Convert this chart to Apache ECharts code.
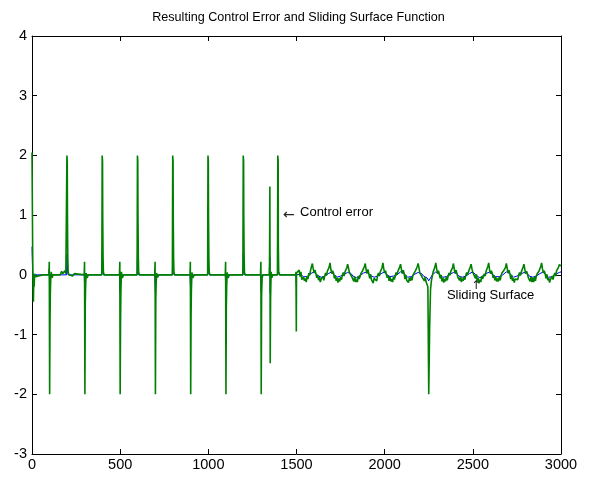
<!DOCTYPE html>
<html>
<head>
<meta charset="utf-8">
<script src="https://cdn.jsdelivr.net/npm/echarts@6/dist/echarts.min.js"></script>
<style>
  html, body { margin: 0; padding: 0; background: #fff; }
  #chart { width: 597px; height: 477px; }
</style>
</head>
<body>
<div id="chart"></div>
<script>
// x ticks / y ticks
const xTicks = [0, 500, 1000, 1500, 2000, 2500, 3000];
const yTicks = [-3, -2, -1, 0, 1, 2, 3, 4];

// control error, first half: [time, value] around the switching spikes
const ctrlErrA = [
  [0, 2.05], [2, 1.2], [4, 0.3], [6, -0.2], [8, -0.45], [10, -0.1], [12, -0.2], [15, 0.02], [20, -0.03], [30, 0], [60, 0],
  [96, 0], [98, 0.22], [100, -2], [102, -0.85], [104, -0.3], [106, -0.1], [109, 0.05], [114, -0.05], [120, 0],
  [160, 0], [168, 0.06], [175, 0.02], [186, 0.07], [192, 0.02], [196, 0.04], [198, 2], [200, 1.9], [201, 1], [203, 0.3], [205, 0.05], [210, 0],
  [230, -0.02], [240, 0.02], [250, 0],
  [296, 0], [298, 0.22], [300, -2], [302, -0.5], [304, -0.2], [307, 0.03], [312, -0.05], [320, 0],
  [396, 0], [398, 2], [400, 1.9], [401, 1], [403, 0.3], [405, 0.04], [410, 0],
  [496, 0], [498, 0.22], [500, -2], [502, -0.85], [504, -0.3], [507, 0.05], [512, -0.05], [520, 0],
  [596, 0], [598, 2], [600, 1.9], [601, 1], [603, 0.3], [605, 0.04], [610, 0],
  [696, 0], [698, 0.22], [700, -2], [702, -0.45], [704, -0.15], [707, 0.03], [712, -0.04], [720, 0],
  [796, 0], [798, 2], [800, 1.9], [801, 1], [803, 0.3], [805, 0.04], [810, 0],
  [896, 0], [898, 0.22], [900, -2], [902, -0.7], [904, -0.25], [907, 0.04], [912, -0.05], [920, 0],
  [996, 0], [998, 2], [1000, 1.9], [1001, 1], [1003, 0.3], [1005, 0.04], [1010, 0],
  [1096, 0], [1098, 0.22], [1100, -2], [1102, -0.55], [1104, -0.2], [1107, 0.04], [1112, -0.05], [1120, 0],
  [1196, 0], [1198, 2], [1200, 1.9], [1201, 1], [1203, 0.3], [1205, 0.04], [1210, 0],
  [1296, 0], [1298, 0.22], [1300, -2], [1302, -0.35], [1305, -0.05], [1310, 0],
  [1345, 0], [1347, 0.2], [1349, 1.48], [1351, -1.48], [1353, -0.4], [1356, 0.05], [1360, -0.05], [1366, 0],
  [1392, 0], [1394, 2], [1396, 1.9], [1397, 0.5], [1399, 0.05], [1405, 0],
  [1496, 0], [1497, 0.05], [1499, -0.95], [1500, 0.03]
];

// control error, second half: values every 5 from 1505 to 3000
const ctrlErrBStart = 1505;
const ctrlErrBStep = 5;
const ctrlErrB = [
  0.06, 0.02, 0.08, -0.03, 0.05, -0.08, -0.11, -0.04, -0.10, -0.06, -0.12, -0.02, -0.07, 0.03, -0.01, 0.08, 0.14,
  0.19, 0.10, 0.03, 0.08, 0.02, -0.05, 0.00, -0.09, -0.04, -0.12, -0.07, -0.10, -0.03, -0.09, -0.02, 0.03, -0.01, 0.06, 0.05, 0.13,
  0.20, 0.09, 0.02, 0.07, 0.03, -0.06, -0.01, -0.10, -0.05, -0.13, -0.06, -0.11, -0.04, -0.08, -0.01, 0.04, -0.02, 0.05, 0.06, 0.12,
  0.18, 0.11, 0.04, 0.06, 0.01, -0.04, -0.02, -0.11, -0.03, -0.12, -0.08, -0.12, -0.02, -0.07, -0.03, 0.02, 0.00, 0.07, 0.04, 0.14,
  0.19, 0.08, 0.02, 0.09, 0.02, -0.06, 0.01, -0.08, -0.05, -0.14, -0.06, -0.09, -0.04, -0.10, -0.01, 0.03, -0.02, 0.05, 0.06, 0.12,
  0.20, 0.10, 0.03, 0.07, 0.00, -0.05, -0.01, -0.10, -0.04, -0.11, -0.07, -0.12, -0.03, -0.08, -0.02, 0.04, 0.00, 0.06, 0.05, 0.13,
  0.18, 0.09, 0.02, 0.08, 0.03, -0.07, 0.00, -0.09, -0.06, -0.13, -0.05, -0.10, -0.04, -0.09, -0.01, 0.02, -0.01, 0.07, 0.04, 0.14,
  0.19, 0.11, 0.03, 0.06, 0.02, -0.05, -0.02, -0.10, -0.04, -0.12, -0.15, -0.20, -2.00, -0.90, -0.25, -0.10, -0.02, 0.05, 0.06, 0.13,
  0.20, 0.10, 0.02, 0.07, 0.01, -0.06, 0.00, -0.11, -0.05, -0.13, -0.07, -0.11, -0.03, -0.09, -0.02, 0.03, -0.01, 0.06, 0.05, 0.12,
  0.19, 0.09, 0.03, 0.08, 0.02, -0.04, -0.01, -0.09, -0.03, -0.12, -0.06, -0.10, -0.04, -0.08, -0.01, 0.04, 0.00, 0.05, 0.06, 0.13,
  0.18, 0.10, 0.04, 0.06, 0.01, -0.06, 0.01, -0.10, -0.05, -0.14, -0.08, -0.12, -0.02, -0.07, -0.03, 0.02, -0.02, 0.06, 0.04, 0.14,
  0.20, 0.08, 0.02, 0.07, 0.03, -0.05, -0.01, -0.09, -0.04, -0.11, -0.06, -0.11, -0.03, -0.09, -0.02, 0.03, 0.00, 0.07, 0.05, 0.12,
  0.19, 0.11, 0.03, 0.08, 0.02, -0.07, 0.00, -0.10, -0.06, -0.13, -0.07, -0.10, -0.04, -0.08, -0.01, 0.04, -0.01, 0.05, 0.06, 0.13,
  0.18, 0.09, 0.02, 0.06, 0.01, -0.05, -0.02, -0.11, -0.04, -0.12, -0.05, -0.12, -0.03, -0.10, -0.02, 0.02, 0.00, 0.06, 0.04, 0.14,
  0.20, 0.10, 0.03, 0.07, 0.02, -0.06, 0.01, -0.09, -0.05, -0.13, -0.08, -0.11, -0.02, -0.08, -0.01, 0.03, -0.02, 0.07, 0.05, 0.12,
  0.17, 0.19, 0.15
];

// sliding surface, first half
const slideA = [
  [0, 0.47], [3, 0.1], [6, -0.05], [10, 0], [96, 0], [98, 0.1], [100, -0.3], [103, 0],
  [196, 0], [198, 0.35], [202, 0.05], [205, 0], [296, 0], [300, -0.3], [303, 0],
  [396, 0], [398, 0.35], [402, 0.05], [405, 0], [496, 0], [500, -0.3], [503, 0],
  [596, 0], [598, 0.35], [602, 0.05], [605, 0], [696, 0], [700, -0.3], [703, 0],
  [796, 0], [798, 0.35], [802, 0.05], [805, 0], [896, 0], [900, -0.3], [903, 0],
  [996, 0], [998, 0.35], [1002, 0.05], [1005, 0], [1096, 0], [1100, -0.3], [1103, 0],
  [1196, 0], [1198, 0.35], [1202, 0.05], [1205, 0], [1296, 0], [1300, -0.3], [1303, 0],
  [1347, 0], [1349, 0.3], [1351, -0.3], [1354, 0], [1392, 0], [1394, 0.35], [1398, 0.05], [1401, 0],
  [1497, 0], [1499, -0.15]
];

// sliding surface, second half: values every 10 from 1500 to 3000
const slideBStart = 1500;
const slideBStep = 10;
const slideB = [
  0.00, 0.02, 0.01, -0.02, -0.03, -0.04, -0.03, -0.01, 0.02,
  0.04, 0.05, 0.02, -0.01, -0.03, -0.04, -0.03, -0.02, 0.00, 0.02,
  0.05, 0.05, 0.01, -0.01, -0.04, -0.04, -0.02, -0.02, 0.01, 0.02,
  0.04, 0.06, 0.02, -0.02, -0.03, -0.05, -0.03, -0.01, 0.00, 0.03,
  0.05, 0.05, 0.02, -0.01, -0.04, -0.04, -0.03, -0.02, 0.01, 0.02,
  0.04, 0.05, 0.01, -0.02, -0.03, -0.05, -0.02, -0.01, 0.00, 0.03,
  0.05, 0.06, 0.02, -0.01, -0.04, -0.04, -0.03, -0.02, 0.01, 0.02,
  0.04, 0.05, 0.02, -0.02, -0.03, -0.05, -0.10, -0.05, 0.00, 0.02,
  0.05, 0.05, 0.01, -0.01, -0.04, -0.05, -0.03, -0.01, 0.01, 0.03,
  0.04, 0.06, 0.02, -0.02, -0.03, -0.04, -0.02, -0.02, 0.00, 0.02,
  0.05, 0.05, 0.02, -0.01, -0.04, -0.05, -0.03, -0.01, 0.01, 0.03,
  0.04, 0.05, 0.01, -0.02, -0.03, -0.04, -0.03, -0.02, 0.00, 0.02,
  0.05, 0.06, 0.02, -0.01, -0.04, -0.05, -0.02, -0.01, 0.01, 0.03,
  0.04, 0.05, 0.02, -0.02, -0.03, -0.04, -0.03, -0.02, 0.00, 0.02,
  0.05, 0.05, 0.01, -0.01, -0.04, -0.05, -0.03, -0.01, 0.01, 0.03,
  0.04, 0.05
];

const ctrlErr = ctrlErrA.concat(ctrlErrB.map((v, i) => [ctrlErrBStart + i * ctrlErrBStep, v]));
const slide = slideA.concat(slideB.map((v, i) => [slideBStart + i * slideBStep, v]));

const font = 'Liberation Sans, Arial, sans-serif';

function boxAxis(base) {
  return Object.assign({
    type: 'value',
    axisLine: { show: true, onZero: false, lineStyle: { color: '#000', width: 1 } },
    axisTick: { show: true, inside: true, length: 5, lineStyle: { color: '#000' } },
    splitLine: { show: false },
  }, base);
}

const chart = echarts.init(document.getElementById('chart'), null, { renderer: 'canvas' });

chart.setOption({
  animation: false,
  backgroundColor: '#fff',
  title: {
    text: 'Resulting Control Error and Sliding Surface Function',
    left: 'center',
    top: 6,
    textStyle: { fontFamily: font, fontSize: 12.6, fontWeight: 'normal', color: '#000' }
  },
  grid: { left: 32, right: 36, top: 36, bottom: 23 },
  xAxis: [
    boxAxis({
      min: xTicks[0], max: xTicks[xTicks.length - 1], interval: 500, position: 'bottom',
      axisLabel: { color: '#000', fontFamily: font, fontSize: 14.5, margin: 3, formatter: v => String(v) }
    }),
    boxAxis({
      min: xTicks[0], max: xTicks[xTicks.length - 1], interval: 500, position: 'top',
      axisLabel: { show: false }
    })
  ],
  yAxis: [
    boxAxis({
      min: yTicks[0], max: yTicks[yTicks.length - 1], interval: 1, position: 'left',
      axisLabel: { color: '#000', fontFamily: font, fontSize: 14.5, margin: 5 }
    }),
    boxAxis({
      min: yTicks[0], max: yTicks[yTicks.length - 1], interval: 1, position: 'right',
      axisLabel: { show: false }
    })
  ],
  series: [
    {
      name: 'Sliding Surface',
      type: 'line',
      data: slide,
      showSymbol: false,
      lineStyle: { color: '#0000ff', width: 1 },
      z: 2
    },
    {
      name: 'Control error',
      type: 'line',
      data: ctrlErr,
      showSymbol: false,
      lineStyle: { color: '#008000', width: 1.6 },
      z: 3
    }
  ]
});

// text annotations placed in data coordinates
const arrowAt = chart.convertToPixel({ gridIndex: 0 }, [1423, 1.0]);
const ceAt = chart.convertToPixel({ gridIndex: 0 }, [1520, 1.04]);
const ssAt = chart.convertToPixel({ gridIndex: 0 }, [2353, -0.35]);
const upAt = chart.convertToPixel({ gridIndex: 0 }, [2518, -0.19]);
const annStyle = { fontFamily: font, fontSize: 13, fill: '#000' };

chart.setOption({
  graphic: [
    { type: 'text', z: 100, x: arrowAt[0], y: arrowAt[1], style: { text: '\u2190', fontFamily: 'DejaVu Sans', fontSize: 14, fill: '#222', verticalAlign: 'middle' } },
    { type: 'text', z: 100, x: ceAt[0], y: ceAt[1], style: Object.assign({ text: 'Control error', verticalAlign: 'middle' }, annStyle) },
    { type: 'text', z: 100, x: ssAt[0], y: ssAt[1], style: Object.assign({ text: 'Sliding Surface', verticalAlign: 'middle' }, annStyle) },
    { type: 'text', z: 100, x: upAt[0], y: upAt[1], style: { text: '\u2191', fontFamily: 'DejaVu Sans', fontSize: 12, fill: '#222', align: 'center', verticalAlign: 'middle' } }
  ]
});
</script>
</body>
</html>
